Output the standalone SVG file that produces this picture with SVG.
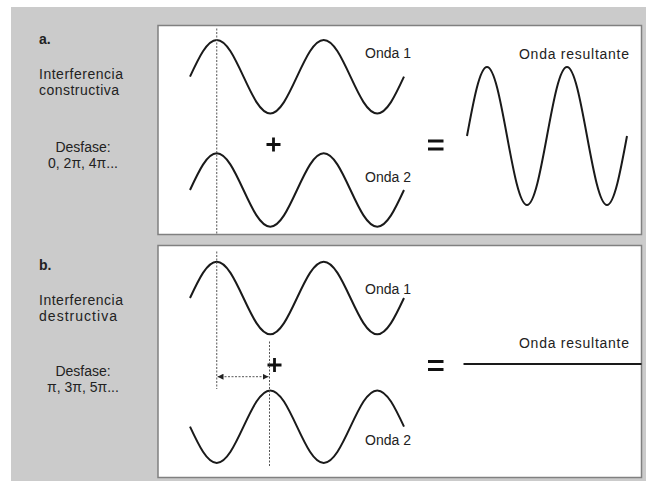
<svg xmlns="http://www.w3.org/2000/svg" width="646" height="481" viewBox="0 0 646 481">
<style>
.lbl{font-family:"Liberation Sans","DejaVu Sans",sans-serif;font-size:14px;fill:#222}
.hd{font-family:"Liberation Sans","DejaVu Sans",sans-serif;font-size:14px;font-weight:bold;fill:#222}
.box{fill:#fff;stroke:#808080;stroke-width:1.5}
.wave{fill:none;stroke:#1a1a1a;stroke-width:2}
.dot{fill:none;stroke:#555;stroke-width:1;stroke-dasharray:2,1.5}
.op{fill:none;stroke:#111;stroke-width:2.8}
</style>
<defs>
<marker id="ah" viewBox="0 0 10 10" refX="10" refY="5" markerWidth="6" markerHeight="6" orient="auto-start-reverse" markerUnits="userSpaceOnUse">
<path d="M0,0 L10,5 L0,10 z" fill="#222"/>
</marker>
</defs>
<rect x="0" y="0" width="646" height="481" fill="#fff"/>
<rect x="11" y="7" width="635" height="474" fill="#cbcbcb"/>

<g id="panel-a">
<rect class="box" x="158" y="25.5" width="483.5" height="209"/>
<text class="hd" x="39" y="44">a.</text>
<text class="lbl" x="39" y="79" textLength="84">Interferencia</text>
<text class="lbl" x="39" y="95" textLength="80">constructiva</text>
<text class="lbl" x="83" y="152" text-anchor="middle">Desfase:</text>
<text class="lbl" x="83" y="168" text-anchor="middle">0, 2π, 4π...</text>
</g>

<g id="panel-b">
<rect class="box" x="158" y="245.5" width="483.5" height="232"/>
<text class="hd" x="39" y="270">b.</text>
<text class="lbl" x="39" y="304.5" textLength="84">Interferencia</text>
<text class="lbl" x="39" y="320.5" textLength="78">destructiva</text>
<text class="lbl" x="83" y="375.5" text-anchor="middle">Desfase:</text>
<text class="lbl" x="83" y="391.5" text-anchor="middle">π, 3π, 5π...</text>
</g>

<g id="wave-a1">
<path class="wave" d="M190,76.7 c8.72,-18.8 17.07,-36.7 26.75,-36.7 s18.03,17.9 26.75,36.7 s17.07,36.7 26.75,36.7 s18.03,-17.9 26.75,-36.7 s17.07,-36.7 26.75,-36.7 s18.03,17.9 26.75,36.7 s17.07,36.7 26.75,36.7 s18.03,-17.9 26.75,-36.7"/>
<text class="lbl" x="365" y="58">Onda 1</text>
</g>

<g id="wave-a2">
<path class="wave" d="M190,190 c8.72,-18.8 17.07,-36.7 26.75,-36.7 s18.03,17.9 26.75,36.7 s17.07,36.7 26.75,36.7 s18.03,-17.9 26.75,-36.7 s17.07,-36.7 26.75,-36.7 s18.03,17.9 26.75,36.7 s17.07,36.7 26.75,36.7 s18.03,-17.9 26.75,-36.7"/>
<text class="lbl" x="365" y="182">Onda 2</text>
</g>

<g id="wave-a-result">
<path class="wave" d="M467,136 c6.52,-35.35 12.76,-69 20,-69 s13.48,33.65 20,69 s12.76,69 20,69 s13.48,-33.65 20,-69 s12.76,-69 20,-69 s13.48,33.65 20,69 s12.76,69 20,69 s13.48,-33.65 20,-69"/>
<text class="lbl" x="629" y="58.5" text-anchor="end" textLength="110">Onda resultante</text>
</g>

<g id="wave-b1">
<path class="wave" d="M190,298 c8.72,-18.6 17.07,-36.3 26.75,-36.3 s18.03,17.7 26.75,36.3 s17.07,36.3 26.75,36.3 s18.03,-17.7 26.75,-36.3 s17.07,-36.3 26.75,-36.3 s18.03,17.7 26.75,36.3 s17.07,36.3 26.75,36.3 s18.03,-17.7 26.75,-36.3"/>
<text class="lbl" x="365" y="293.5">Onda 1</text>
</g>

<g id="wave-b2">
<path class="wave" d="M190,426.7 c8.72,18.6 17.07,36.3 26.75,36.3 s18.03,-17.7 26.75,-36.3 s17.07,-36.3 26.75,-36.3 s18.03,17.7 26.75,36.3 s17.07,36.3 26.75,36.3 s18.03,-17.7 26.75,-36.3 s17.07,-36.3 26.75,-36.3 s18.03,17.7 26.75,36.3"/>
<text class="lbl" x="365" y="444.5">Onda 2</text>
</g>

<g id="wave-b-result">
<line class="wave" x1="463.5" y1="364" x2="641.5" y2="364"/>
<text class="lbl" x="629" y="347.5" text-anchor="end" textLength="110">Onda resultante</text>
</g>

<g id="operators">
<path class="op" d="M266.5,144.5 h14 M273.5,137.5 v14"/>
<path class="op" d="M428,141 h15.5 M428,149 h15.5"/>
<path class="op" d="M267.5,365 h14 M274.5,358 v14"/>
<path class="op" d="M428,361.5 h15.5 M428,369.5 h15.5"/>
</g>

<g id="connectors">
<line class="dot" x1="216.75" y1="28.5" x2="216.75" y2="234"/>
<line class="dot" x1="216.75" y1="251.5" x2="216.75" y2="389"/>
<line class="dot" x1="269.5" y1="341.5" x2="269.5" y2="467"/>
<line class="dot" x1="217.5" y1="376.7" x2="268.5" y2="376.7" marker-start="url(#ah)" marker-end="url(#ah)"/>
</g>
</svg>
